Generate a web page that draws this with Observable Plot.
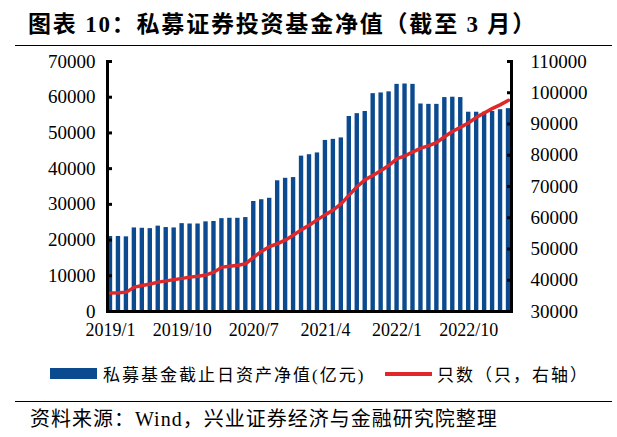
<!DOCTYPE html>
<html>
<head>
<meta charset="utf-8">
<script src="https://cdn.jsdelivr.net/npm/d3@7"></script>
<script src="https://cdn.jsdelivr.net/npm/@observablehq/plot@0.6"></script>
<style>
  html, body { margin: 0; padding: 0; background: #fff; }
  #wrap { position: relative; width: 617px; height: 437px; overflow: hidden; font-family: "Liberation Serif", "Noto Sans CJK SC", serif; color: #000; }
  #title { position: absolute; left: 28px; top: 5px; font-size: 23px; font-weight: bold; letter-spacing: 1.8px; white-space: nowrap; }
  .rule { position: absolute; left: 15px; width: 597px; height: 0; border-top: 1.5px solid #000; }
  #chart { position: absolute; left: 0; top: 50px; }
  #legend { position: absolute; top: 361px; left: 0; width: 617px; height: 24px; font-size: 17px; letter-spacing: 2px; white-space: nowrap; }
  #legend .sw { position: absolute; }
  #legend .lb { position: absolute; top: 0; }
  #footer { position: absolute; left: 30px; top: 403px; font-size: 20px; letter-spacing: 1px; white-space: nowrap; }
</style>
</head>
<body>
<div id="wrap">
  <div id="title">图表 10：私募证券投资基金净值（截至 3 月）</div>
  <div class="rule" style="top:45px"></div>
  <div id="chart"></div>
  <div id="legend">
    <div class="sw" style="left:50px;top:7px;width:47px;height:11px;background:#0B4A8F"></div>
    <div class="lb" style="left:103px">私募基金截止日资产净值(亿元)</div>
    <div class="sw" style="left:385px;top:11px;width:47px;height:4px;background:#E0282A"></div>
    <div class="lb" style="left:437px">只数（只，右轴）</div>
  </div>
  <div class="rule" style="top:401px"></div>
  <div id="footer">资料来源：Wind，兴业证券经济与金融研究院整理</div>
</div>
<script>
const months = [
  "2019/1","2019/2","2019/3","2019/4","2019/5","2019/6","2019/7","2019/8","2019/9","2019/10","2019/11","2019/12",
  "2020/1","2020/2","2020/3","2020/4","2020/5","2020/6","2020/7","2020/8","2020/9","2020/10","2020/11","2020/12",
  "2021/1","2021/2","2021/3","2021/4","2021/5","2021/6","2021/7","2021/8","2021/9","2021/10","2021/11","2021/12",
  "2022/1","2022/2","2022/3","2022/4","2022/5","2022/6","2022/7","2022/8","2022/9","2022/10","2022/11","2022/12",
  "2023/1","2023/2","2023/3"
];
const netAssets = [
  21000, 21000, 20900, 23400, 23300, 23200, 23900, 23500, 23400, 24600, 24500, 24500,
  25100, 25200, 26000, 26100, 26100, 26300, 30800, 31300, 31700, 36600, 37300, 37500,
  43500, 43900, 44400, 47900, 48200, 48600, 54600, 55400, 56000, 61000, 61200, 61500,
  63600, 63700, 63600, 58100, 58000, 58000, 59900, 60000, 59900, 55800, 55800, 55800,
  56000, 56500, 56800
];
const fundCount = [
  35900, 36000, 36200, 37800, 38300, 38800, 39400, 39800, 40200, 40600, 41000, 41300,
  41700, 42600, 44200, 44500, 44800, 45300, 47400, 49300, 50800, 51700, 52900, 54500,
  56200, 57700, 59400, 61000, 62500, 64500, 67300, 70000, 72200, 73600, 75100, 76800,
  78900, 79800, 81100, 82300, 83100, 84100, 86000, 87700, 89000, 90400, 92200, 93600,
  95000, 96200, 97600
];
const xTickLabels = ["2019/1","2019/10","2020/7","2021/4","2022/1","2022/10"];
const leftTicks = [0, 10000, 20000, 30000, 40000, 50000, 60000, 70000];
const rightTicks = [30000, 40000, 50000, 60000, 70000, 80000, 90000, 100000, 110000];
const leftDomain = [0, 70000];
const rightDomain = [30000, 110000];

const toLeft = v => leftDomain[0] + (v - rightDomain[0]) * (leftDomain[1] - leftDomain[0]) / (rightDomain[1] - rightDomain[0]);
const fromLeft = v => rightDomain[0] + (v - leftDomain[0]) * (rightDomain[1] - rightDomain[0]) / (leftDomain[1] - leftDomain[0]);

const rows = months.map((m, i) => ({month: m, nav: netAssets[i], count: fundCount[i]}));

const chart = Plot.plot({
  width: 617,
  height: 295,
  marginTop: 11,
  marginBottom: 34,
  marginLeft: 107,
  marginRight: 106,
  style: {fontFamily: "'Liberation Serif', serif", fontSize: "19px", color: "#000", background: "transparent"},
  x: {type: "band", domain: months, paddingInner: 0.45, paddingOuter: 0.1},
  y: {domain: leftDomain},
  marks: [
    Plot.barY(rows, {x: "month", y: "nav", fill: "#0B4A8F"}),
    Plot.line(rows, {x: "month", y: d => toLeft(d.count), stroke: "#E0282A", strokeWidth: 3.5, strokeLinejoin: "round"}),
    Plot.ruleY([0], {stroke: "#000", strokeWidth: 3}),
    Plot.frame({anchor: "left", stroke: "#000", strokeWidth: 3}),
    Plot.frame({anchor: "right", stroke: "#000", strokeWidth: 3}),
    Plot.axisY(leftTicks, {anchor: "left", tickSize: -5, tickPadding: 17, strokeWidth: 3, label: null, tickFormat: d => String(d)}),
    Plot.axisY(rightTicks.map(toLeft), {anchor: "right", tickSize: -5, tickPadding: 24, strokeWidth: 3, label: null, tickFormat: d => String(Math.round(fromLeft(d)))}),
    Plot.axisX(xTickLabels, {anchor: "bottom", tickSize: 0, tickPadding: 12, fontSize: 18, label: null})
  ]
});
document.getElementById("chart").appendChild(chart);
</script>
</body>
</html>
